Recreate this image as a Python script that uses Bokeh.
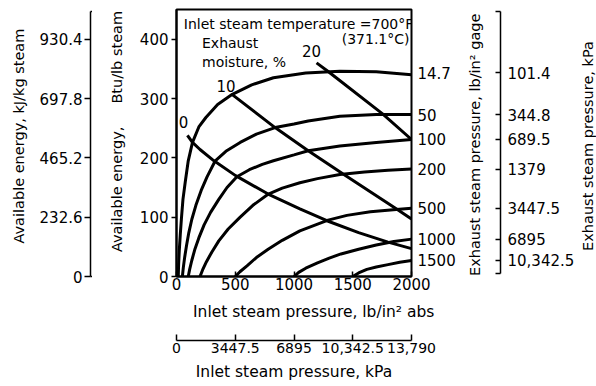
import math
from bokeh.plotting import figure
from bokeh.layouts import row, column
from bokeh.models import Range1d, LinearAxis, FixedTicker, Label, ColumnDataSource
from bokeh.embed import file_html
from bokeh.resources import INLINE
from bokeh.core.properties import value

# ---------------- data ----------------
# Available energy (Btu/lb) vs inlet steam pressure (lb/in^2 abs), one curve per exhaust pressure
exh_14_7_x = [15, 18, 24, 32, 42, 55, 75, 100, 136, 190, 250, 350, 475, 640, 825, 1100, 1390, 1700, 2000]
exh_14_7_y = [0, 20, 45, 70, 98, 130, 160, 195, 226, 252, 268, 290, 307, 323, 335, 343, 346, 345, 340]
exh_50_x = [50, 58, 70, 85, 105, 130, 165, 210, 260, 330, 420, 542, 680, 839, 1000, 1120, 1390, 1700, 2000]
exh_50_y = [0, 15, 33, 52, 74, 96, 120, 145, 168, 195, 211, 226, 240, 251, 257, 262, 270, 273, 273]
exh_100_x = [100, 112, 130, 155, 190, 235, 290, 360, 430, 514, 620, 730, 825, 1000, 1121, 1390, 1700, 2000]
exh_100_y = [0, 12, 27, 45, 65, 87, 108, 130, 150, 168, 180, 189, 195, 205, 212, 220, 226, 231]
exh_200_x = [200, 222, 255, 300, 360, 440, 542, 650, 782, 900, 1050, 1200, 1390, 1600, 1800, 2000]
exh_200_y = [0, 11, 25, 41, 60, 80, 100, 120, 139, 149, 158, 165, 172, 176, 179, 181]
exh_500_x = [500, 540, 600, 680, 780, 900, 1050, 1290, 1450, 1650, 1870, 2000]
exh_500_y = [0, 8, 18, 32, 46, 61, 77, 95, 103, 109, 113, 115]
exh_1000_x = [1000, 1040, 1100, 1200, 1300, 1400, 1550, 1700, 1850, 2000]
exh_1000_y = [0, 7, 14, 23, 31, 38, 46, 53, 59, 63]
exh_1500_x = [1500, 1550, 1620, 1700, 1800, 1900, 2000]
exh_1500_y = [0, 6, 12, 16, 20, 24, 27]

# Exhaust-moisture lines (%)
moist_0_x = [93, 136, 200, 319, 503, 780, 1050, 1280, 1550, 1800, 2000]
moist_0_y = [238, 226, 214, 195, 170, 139, 114, 94, 74, 58, 47]
moist_10_x = [472, 839, 1121, 1415, 1870, 2000]
moist_10_y = [307, 251, 212, 173, 114, 97]
moist_20_x = [1192, 1288, 1754, 2000]
moist_20_y = [360, 346, 274, 231]
moisture_labels = ["0", "10", "20"]

exhaust_psig_labels = ["14.7", "50", "100", "200", "500", "1000", "1500"]
exhaust_kpa_labels = ["101.4", "344.8", "689.5", "1379", "3447.5", "6895", "10,342.5"]

btu_ticks = [0, 100, 200, 300, 400]
kj_ticks = [0, 232.6, 465.2, 697.8, 930.4]
kj_tick_labels = ["0", "232.6", "465.2", "697.8", "930.4"]
psi_ticks = [0, 500, 1000, 1500, 2000]
kpa_ticks = [0, 3447.5, 6895, 10342.5, 13790]
kpa_tick_labels = ["0", "3447.5", "6895", "10,342.5", "13,790"]

BTU_TO_KJ = 2.326
PSI_TO_KPA = 6.895
Y_MAX = 450
X_MAX = 2000

# ---------------- layout constants (pixels) ----------------
FONT = "DejaVu Sans"
NB = "\u00a0"
H = 386
TOP, FRAME_H = 9, 267                 # main frame rows 9..276
BOTTOM = H - TOP - FRAME_H
L_W = 92                               # kJ scale strip (axis line at x=90)
M_LEFT, FRAME_W, M_RIGHT = 84, 236, 46  # main frame columns 176..412
M_H = 324
R1_W, R2_W = 119, 19


def base(**kw):
    f = figure(output_backend="svg", toolbar_location=None,
               x_axis_location=None, y_axis_location=None, **kw)
    f.grid.visible = False
    f.background_fill_color = "white"
    f.border_fill_color = "white"
    f.outline_line_color = None
    return f


def style(ax, label_size="15px", title_size="14.5px"):
    ax.major_label_text_font = FONT
    ax.major_label_text_font_size = label_size
    ax.major_label_text_color = "black"
    ax.axis_label_text_font = FONT
    ax.axis_label_text_font_size = title_size
    ax.axis_label_text_font_style = "normal"
    ax.axis_label_text_color = "black"
    ax.axis_line_color = "black"
    ax.axis_line_width = 1.5
    ax.major_tick_line_color = "black"
    ax.major_tick_line_width = 1.5
    ax.minor_tick_line_color = "black"
    ax.minor_tick_line_width = 1.5
    ax.minor_tick_in = 0
    ax.minor_tick_out = 0
    return ax


# ---------- left strip: kJ/kg scale ----------
fl = base(width=L_W, height=H, x_range=Range1d(0, 1), y_range=Range1d(0, Y_MAX * BTU_TO_KJ),
          min_border_left=L_W - 2, min_border_right=0, min_border_top=TOP,
          min_border_bottom=BOTTOM)
ax_kj = style(LinearAxis(ticker=FixedTicker(ticks=kj_ticks, minor_ticks=[0, 1040]),
                         bounds=(0, 1040),
                         major_label_overrides=dict(zip(kj_ticks, kj_tick_labels)),
                         axis_label=NB * 3 + "Available energy, kJ/kg steam"))
ax_kj.major_tick_out = 6
ax_kj.major_tick_in = 0
ax_kj.minor_tick_in = 6
ax_kj.minor_tick_out = 0
ax_kj.major_label_standoff = 2
ax_kj.axis_label_standoff = 10
fl.add_layout(ax_kj, "left")

# ---------- main chart ----------
p = base(width=M_LEFT + FRAME_W + M_RIGHT, height=M_H,
         x_range=Range1d(0, X_MAX), y_range=Range1d(0, Y_MAX),
         min_border_left=M_LEFT, min_border_right=M_RIGHT, min_border_top=TOP,
         min_border_bottom=M_H - TOP - FRAME_H)
p.outline_line_color = "black"
p.outline_line_width = 2

ax_btu = style(LinearAxis(ticker=FixedTicker(ticks=btu_ticks),
                          axis_label=NB * 5 + "Available energy," + NB * 5 + "Btu/lb steam"))
ax_btu.major_tick_out = 5
ax_btu.major_tick_in = 0
ax_btu.major_label_standoff = 3
ax_btu.axis_label_standoff = 12
ax_btu.axis_line_width = 2
p.add_layout(ax_btu, "left")

ax_psi = style(LinearAxis(ticker=FixedTicker(ticks=psi_ticks),
                          axis_label=NB * 8 + "Inlet steam pressure, lb/in\u00b2 abs"),
               title_size="15.5px")
ax_psi.major_tick_in = 5
ax_psi.major_tick_out = 0
ax_psi.major_label_standoff = 1
ax_psi.axis_label_standoff = 10
ax_psi.axis_line_width = 2
p.add_layout(ax_psi, "below")

curves = [(exh_14_7_x, exh_14_7_y), (exh_50_x, exh_50_y), (exh_100_x, exh_100_y),
          (exh_200_x, exh_200_y), (exh_500_x, exh_500_y), (exh_1000_x, exh_1000_y),
          (exh_1500_x, exh_1500_y)]
end_vals = [cy[-1] for _, cy in curves]
end_vals[0] = end_vals[0] + 3  # label sits just under the 14.7 curve's crest

ax_exh = style(LinearAxis(ticker=FixedTicker(ticks=end_vals),
                          major_label_overrides=dict(zip(end_vals, exhaust_psig_labels))))
ax_exh.major_tick_in = 0
ax_exh.major_tick_out = 0
ax_exh.axis_line_color = None
ax_exh.major_label_standoff = 6
p.add_layout(ax_exh, "right")

for cx, cy in curves:
    p.line(cx, cy, line_color="black", line_width=3)

moist = [(moist_0_x, moist_0_y), (moist_10_x, moist_10_y), (moist_20_x, moist_20_y)]
for mx, my in moist:
    p.line(mx, my, line_color="black", line_width=3)

lab_src = ColumnDataSource(dict(
    x=[m[0][0] for m in moist], y=[m[1][0] for m in moist], text=moisture_labels,
    xo=[-4, -6, -5], yo=[-13, -8, -12]))
p.text(x="x", y="y", text="text", source=lab_src, x_offset="xo", y_offset="yo",
       text_align="center", text_baseline="middle", text_font=value(FONT),
       text_font_size="15px", text_color="black")

common = dict(text_font=FONT, text_font_size="14px", text_color="black", text_baseline="middle")
p.add_layout(Label(x=62, y=426, text="Inlet steam temperature =700\u00b0F", **common))
p.add_layout(Label(x=1983, y=400, text="(371.1\u00b0C)", text_align="right", **common))
p.add_layout(Label(x=217, y=393, text="Exhaust", **common))
p.add_layout(Label(x=217, y=361, text="moisture, %", **common))

# ---------- kPa scale under the main chart ----------
B_H = H - M_H
fb = base(width=M_LEFT + FRAME_W + M_RIGHT, height=B_H,
          x_range=Range1d(0, X_MAX * PSI_TO_KPA), y_range=Range1d(0, 1),
          min_border_left=M_LEFT, min_border_right=M_RIGHT,
          min_border_top=14, min_border_bottom=B_H - 16)
ax_kpa = style(LinearAxis(ticker=FixedTicker(ticks=kpa_ticks),
                          major_label_overrides=dict(zip(kpa_ticks, kpa_tick_labels)),
                          axis_label="Inlet steam pressure, kPa"),
               label_size="14px", title_size="15.5px")
ax_kpa.major_tick_in = 6
ax_kpa.major_tick_out = 0
ax_kpa.major_label_standoff = 2
ax_kpa.axis_label_standoff = 7
fb.add_layout(ax_kpa, "below")

# ---------- right strip 1: title of gage scale + kPa exhaust scale ----------
x0 = L_W + M_LEFT + FRAME_W + M_RIGHT
fr1 = base(width=R1_W, height=H, x_range=Range1d(x0, x0 + 44), y_range=Range1d(0, Y_MAX),
           min_border_left=0, min_border_right=R1_W - 44, min_border_top=TOP,
           min_border_bottom=BOTTOM)
title_style = dict(text_font=FONT, text_color="black", text_align="center",
                   text_baseline="middle", angle=math.pi / 2)
fr1.add_layout(Label(x=475, y=222, text="Exhaust steam pressure, lb/in\u00b2 gage",
                     text_font_size="14.5px", **title_style))
ax_exh_kpa = style(LinearAxis(ticker=FixedTicker(ticks=end_vals, minor_ticks=[5, 447]),
                              bounds=(5, 447),
                              major_label_overrides=dict(zip(end_vals, exhaust_kpa_labels))))
ax_exh_kpa.major_tick_in = 5
ax_exh_kpa.major_tick_out = 0
ax_exh_kpa.minor_tick_in = 5
ax_exh_kpa.minor_tick_out = 0
ax_exh_kpa.major_label_standoff = 7
fr1.add_layout(ax_exh_kpa, "right")

# ---------- right strip 2: title of kPa exhaust scale ----------
x1 = x0 + R1_W
fr2 = base(width=R2_W, height=H, x_range=Range1d(x1, x1 + R2_W), y_range=Range1d(0, Y_MAX),
           min_border_left=0, min_border_right=0, min_border_top=TOP, min_border_bottom=BOTTOM)
fr2.add_layout(Label(x=587, y=220, text="Exhaust steam pressure, kPa",
                     text_font_size="14.5px", **title_style))

layout = row(fl, column(p, fb, spacing=0), fr1, fr2, spacing=0)
open("out.html", "w").write(file_html(layout, INLINE))
